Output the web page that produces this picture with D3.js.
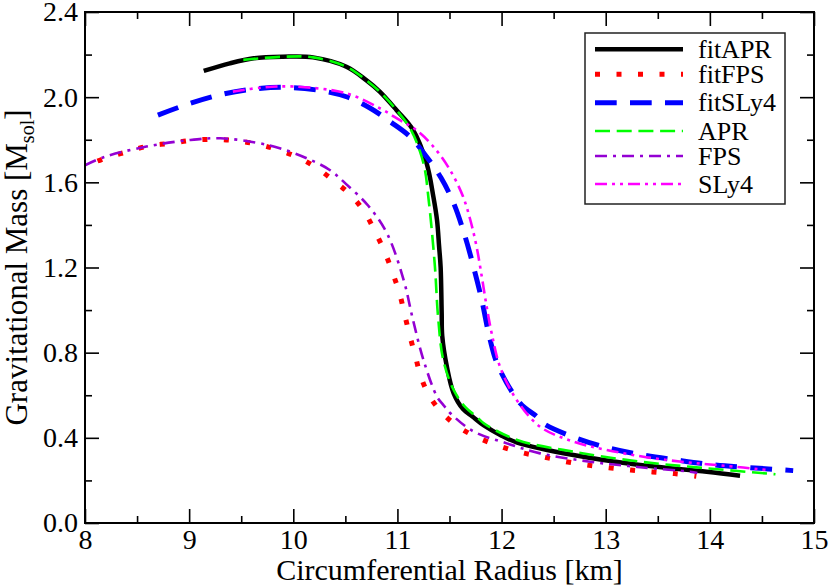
<!DOCTYPE html>
<html>
<head>
<meta charset="utf-8">
<script src="https://cdn.jsdelivr.net/npm/d3@7"></script>
<style>
  body { margin: 0; background: #fff; }
  svg { display: block; font-family: "Liberation Serif", "DejaVu Serif", serif; }
</style>
</head>
<body>
<svg id="chart" width="830" height="585"></svg>
<script>
// mass-radius curves, [radius km, mass Msol]
const fitAPR = [
  [9.14,2.123],[9.39,2.159],[9.62,2.183],[9.90,2.190],[10.19,2.187],[10.51,2.143],
  [10.70,2.080],[10.83,2.026],[10.99,1.940],[11.15,1.846],[11.28,1.690],[11.345,1.533],
  [11.38,1.423],[11.40,1.300],[11.415,1.200],[11.425,0.985],[11.43,0.880],[11.475,0.734],
  [11.54,0.609],[11.63,0.535],[11.72,0.500],[11.83,0.458],[12.00,0.410],[12.15,0.378],
  [12.69,0.319],[13.33,0.272],[13.97,0.241],[14.29,0.222]
];
const fitFPS = [
  [8.12,1.700],[8.21,1.716],[8.41,1.744],[8.61,1.771],[8.82,1.783],[9.025,1.797],
  [9.23,1.802],[9.44,1.796],[9.65,1.780],[9.856,1.752],[10.05,1.716],[10.23,1.666],
  [10.40,1.603],[10.56,1.536],[10.69,1.455],[10.79,1.364],[10.88,1.271],[10.955,1.173],
  [11.02,1.079],[11.07,0.977],[11.12,0.878],[11.175,0.778],[11.23,0.680],[11.32,0.586],
  [11.45,0.507],[11.62,0.440],[11.81,0.393],[12.00,0.358],[12.20,0.330],[12.41,0.309],
  [12.62,0.288],[12.82,0.272],[13.03,0.260],[13.24,0.249],[13.45,0.240],[13.66,0.232],
  [13.87,0.220]
];
const fitSLy4 = [
  [8.70,1.916],[9.01,1.971],[9.33,2.015],[9.62,2.038],[9.94,2.046],[10.26,2.031],
  [10.51,2.002],[10.74,1.948],[10.93,1.885],[11.12,1.815],[11.28,1.720],[11.42,1.620],
  [11.54,1.502],[11.65,1.345],[11.73,1.204],[11.81,1.047],[11.89,0.860],[11.97,0.734],
  [12.18,0.562],[12.34,0.499],[12.40,0.468],[12.72,0.398],[13.04,0.351],[13.36,0.319],
  [13.68,0.296],[14.03,0.274],[14.39,0.260],[14.80,0.246]
];
const APR = [
  [9.52,2.175],[9.90,2.190],[10.19,2.187],[10.51,2.143],[10.70,2.080],[10.83,2.026],
  [10.99,1.940],[11.13,1.846],[11.25,1.690],[11.30,1.517],[11.36,1.204],[11.39,0.970],
  [11.44,0.766],[11.54,0.625],[11.65,0.545],[11.76,0.499],[11.83,0.468],[12.15,0.390],
  [12.69,0.335],[13.33,0.288],[13.97,0.257],[14.63,0.229]
];
const FPS = [
  [8.00,1.680],[8.19,1.720],[8.59,1.768],[9.01,1.799],[9.30,1.807],[9.65,1.786],
  [9.87,1.760],[10.13,1.713],[10.35,1.658],[10.50,1.595],[10.72,1.490],[10.90,1.360],
  [11.06,1.141],[11.15,0.953],[11.25,0.766],[11.38,0.593],[11.44,0.555],[11.52,0.510],
  [11.73,0.430],[12.05,0.374],[12.37,0.327],[12.85,0.288],[13.33,0.262],[13.81,0.241],
  [13.88,0.235]
];
const SLy4 = [
  [9.42,2.026],[9.70,2.045],[10.00,2.050],[10.51,2.018],[10.83,1.948],[11.02,1.893],
  [11.18,1.846],[11.345,1.768],[11.505,1.658],[11.63,1.533],[11.70,1.423],[11.76,1.298],
  [11.81,1.157],[11.857,1.016],[11.905,0.891],[11.985,0.734],[12.145,0.578],[12.37,0.452],
  [12.69,0.382],[13.01,0.343],[13.39,0.309],[13.78,0.285],[14.16,0.268],[14.55,0.249]
];

const seriesNames = ["fitAPR", "fitFPS", "fitSLy4", "APR", "FPS", "SLy4"];
const seriesData = [fitAPR, fitFPS, fitSLy4, APR, FPS, SLy4];

const xTicks = [8, 9, 10, 11, 12, 13, 14, 15];
const yTicks = [0.0, 0.4, 0.8, 1.2, 1.6, 2.0, 2.4];
const xTitle = "Circumferential Radius [km]";

// line look per series
const styles = {
  fitAPR:  { color: "#000000", width: 4.5, dash: null },
  fitFPS:  { color: "#ff0000", width: 5,   dash: "5,16.5" },
  fitSLy4: { color: "#0000ff", width: 5,   dash: "21.7,13.3" },
  APR:     { color: "#00ff00", width: 2.6, dash: "15,6.7" },
  FPS:     { color: "#9400d3", width: 2.6, dash: "12,6,3,6" },
  SLy4:    { color: "#ff00ff", width: 2.6, dash: "12,5,3,5,3,5" }
};

const svg = d3.select("#chart");
const L = 85, R = 814, T = 12, B = 523;

const x = d3.scaleLinear().domain([8, 15]).range([L, R]);
const y = d3.scaleLinear().domain([0, 2.4]).range([B, T]);

svg.append("rect").attr("width", 830).attr("height", 585).attr("fill", "#fff");

svg.append("clipPath").attr("id", "plotclip")
  .append("rect").attr("x", L).attr("y", T).attr("width", R - L).attr("height", B - T);

// curves
const line = d3.line()
  .x(d => x(d[0]))
  .y(d => y(d[1]))
  .curve(d3.curveCatmullRom.alpha(0.5));

const curves = svg.append("g").attr("clip-path", "url(#plotclip)");
seriesNames.forEach((name, i) => {
  const s = styles[name];
  curves.append("path")
    .datum(seriesData[i])
    .attr("d", line)
    .attr("fill", "none")
    .attr("stroke", s.color)
    .attr("stroke-width", s.width)
    .attr("stroke-dasharray", s.dash)
    .attr("stroke-linejoin", "round");
});

// axes: ticks point inward on all four sides
function styleAxis(g) {
  g.select(".domain").remove();
  g.selectAll(".tick line").attr("stroke", "#000").attr("stroke-width", 1.6);
  g.selectAll("text").attr("font-size", 28).attr("fill", "#000")
    .attr("font-family", "Liberation Serif, serif");
}

const xMinor = d3.range(8.5, 15, 1);
const yMinor = d3.range(0.2, 2.4, 0.4);

svg.append("g").attr("transform", `translate(0,${B})`)
  .call(d3.axisBottom(x).tickValues(xTicks).tickSize(-14).tickPadding(6).tickFormat(d3.format("d")))
  .call(styleAxis);
svg.append("g").attr("transform", `translate(0,${B})`)
  .call(d3.axisBottom(x).tickValues(xMinor).tickSize(-7).tickFormat(""))
  .call(styleAxis);
svg.append("g").attr("transform", `translate(0,${T})`)
  .call(d3.axisTop(x).tickValues(xTicks).tickSize(-14).tickFormat(""))
  .call(styleAxis);
svg.append("g").attr("transform", `translate(0,${T})`)
  .call(d3.axisTop(x).tickValues(xMinor).tickSize(-7).tickFormat(""))
  .call(styleAxis);

svg.append("g").attr("transform", `translate(${L},0)`)
  .call(d3.axisLeft(y).tickValues(yTicks).tickSize(-14).tickPadding(7).tickFormat(d3.format(".1f")))
  .call(styleAxis);
svg.append("g").attr("transform", `translate(${L},0)`)
  .call(d3.axisLeft(y).tickValues(yMinor).tickSize(-7).tickFormat(""))
  .call(styleAxis);
svg.append("g").attr("transform", `translate(${R},0)`)
  .call(d3.axisRight(y).tickValues(yTicks).tickSize(-14).tickFormat(""))
  .call(styleAxis);
svg.append("g").attr("transform", `translate(${R},0)`)
  .call(d3.axisRight(y).tickValues(yMinor).tickSize(-7).tickFormat(""))
  .call(styleAxis);

// frame
svg.append("rect")
  .attr("x", L).attr("y", T).attr("width", R - L).attr("height", B - T)
  .attr("fill", "none").attr("stroke", "#000").attr("stroke-width", 2);

// axis titles
svg.append("text")
  .attr("x", (L + R) / 2).attr("y", 580)
  .attr("text-anchor", "middle").attr("font-size", 30)
  .text(xTitle);

const yt = svg.append("text")
  .attr("transform", `translate(27,${(T + B) / 2}) rotate(-90)`)
  .attr("text-anchor", "middle").attr("font-size", 31);
yt.append("tspan").text("Gravitational Mass [M");
yt.append("tspan").attr("font-size", 20).attr("dy", 7).text("sol");
yt.append("tspan").attr("dy", -7).text("]");

// legend
const lg = svg.append("g");
lg.append("rect")
  .attr("x", 585).attr("y", 33).attr("width", 200).attr("height", 171)
  .attr("fill", "#fff").attr("stroke", "#222").attr("stroke-width", 1.5);

const rowY = [49.3, 74.3, 102.7, 131, 156, 184];
seriesNames.forEach((name, i) => {
  const s = styles[name];
  lg.append("line")
    .attr("x1", 595).attr("x2", 683)
    .attr("y1", rowY[i]).attr("y2", rowY[i])
    .attr("stroke", s.color)
    .attr("stroke-width", s.width)
    .attr("stroke-dasharray", s.dash);
  lg.append("text")
    .attr("x", 698).attr("y", rowY[i] + 8.5)
    .attr("font-size", 26)
    .text(name);
});
</script>
</body>
</html>
